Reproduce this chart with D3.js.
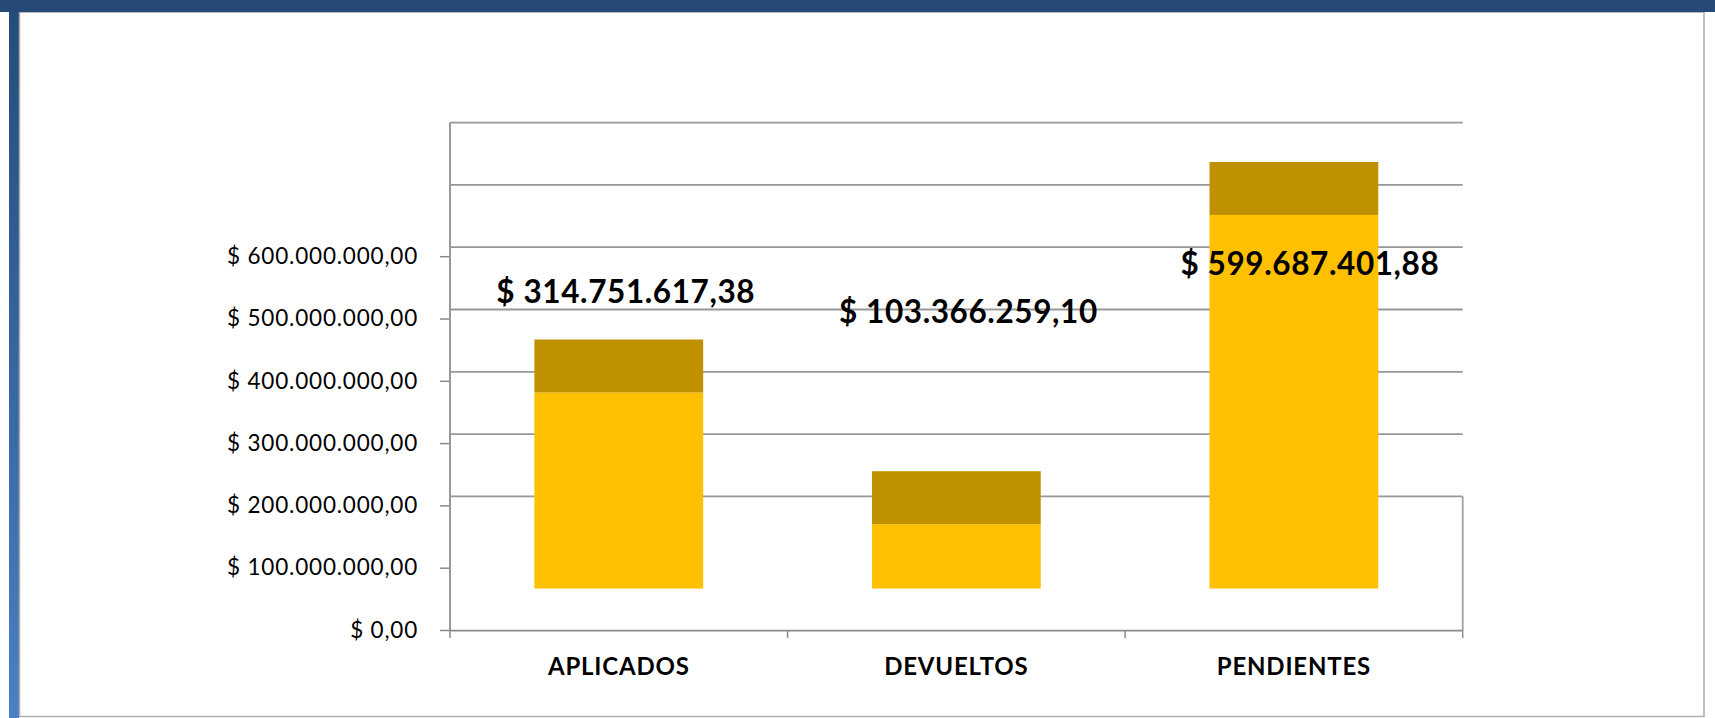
<!DOCTYPE html>
<html>
<head>
<meta charset="utf-8">
<script src="https://cdn.jsdelivr.net/npm/d3@7"></script>
<style>
  body { margin: 0; background: #fff; }
  svg { display: block; }
</style>
</head>
<body>
<svg id="chart"></svg>
<script>
// Chart data
const categories = ["APLICADOS", "DEVUELTOS", "PENDIENTES"];
const amounts = [314751617.38, 103366259.10, 599687401.88];
const tickValues = [0, 100e6, 200e6, 300e6, 400e6, 500e6, 600e6];
const gridValues = [200e6, 300e6, 400e6, 500e6, 600e6, 700e6, 800e6];

// Leftovers of the old 3D excel chart: columns float above zero and carry a darker cap
const floorLift = 66500000;
const capAmount = 85000000;
// where each value label was dragged to (in axis units)
const labelAt = [525e6, 493e6, 570e6];
const labelNudge = [7, 12, 16];

// es-CO style money format: $ 314.751.617,38
const locale = d3.formatLocale({decimal: ",", thousands: ".", grouping: [3], currency: ["$ ", ""]});
const money = locale.format("$,.2f");

function drawChart() {
    const width = 1715, height = 718;
    const svg = d3.select("#chart").attr("width", width).attr("height", height);

    // Frame
    const defs = svg.append("defs");
    const grad = defs.append("linearGradient").attr("id", "side")
        .attr("x1", 0).attr("y1", 0).attr("x2", 0).attr("y2", 1);
    grad.append("stop").attr("offset", "0%").attr("stop-color", "#244b7a");
    grad.append("stop").attr("offset", "100%").attr("stop-color", "#4a80c4");

    svg.append("rect").attr("x", 0).attr("y", 0).attr("width", width).attr("height", height).attr("fill", "#fff");
    svg.append("rect").attr("x", 9).attr("y", 0).attr("width", 10).attr("height", height).attr("fill", "url(#side)");
    svg.append("rect").attr("x", 0).attr("y", 0).attr("width", width).attr("height", 12).attr("fill", "#244a75");
    svg.append("line").attr("x1", 19).attr("x2", 1704).attr("y1", 12.5).attr("y2", 12.5)
        .attr("stroke", "#b5b9c0").attr("stroke-width", 1);
    svg.append("line").attr("x1", 19.5).attr("x2", 19.5).attr("y1", 12).attr("y2", 716)
        .attr("stroke", "#aaa").attr("stroke-width", 1.5);
    svg.append("line").attr("x1", 1704).attr("x2", 1704).attr("y1", 12).attr("y2", 717)
        .attr("stroke", "#aaa").attr("stroke-width", 1.5);
    svg.append("line").attr("x1", 19).attr("x2", 1704).attr("y1", 716.5).attr("y2", 716.5)
        .attr("stroke", "#b0b0b0").attr("stroke-width", 1.5);

    // Scales
    const x = d3.scaleBand().domain(categories).range([450, 1462.7]).padding(0);
    const y = d3.scaleLinear().domain([0, 800e6]).range([630, 131.6]);
    const wallShift = 9;
    const barW = x.bandwidth() * 0.5;

    const g = svg.append("g");

    // Back wall gridlines (sit a little higher than the ticks)
    g.selectAll("line.grid").data(gridValues).join("line")
        .attr("class", "grid")
        .attr("x1", 450).attr("x2", 1462.7)
        .attr("y1", d => y(d) - wallShift).attr("y2", d => y(d) - wallShift)
        .attr("stroke", "#979797").attr("stroke-width", 1.8);

    // Right wall edge, lower part only
    g.append("line")
        .attr("x1", 1462.7).attr("x2", 1462.7)
        .attr("y1", y(200e6) - wallShift).attr("y2", y(0))
        .attr("stroke", "#a0a0a0").attr("stroke-width", 1.8);

    // Left axis
    const yAxis = d3.axisLeft(y).tickValues(tickValues).tickFormat(money).tickSize(10).tickPadding(22);
    const ya = g.append("g").attr("transform", "translate(450,0)").call(yAxis);
    ya.select(".domain").remove();
    ya.selectAll(".tick line").attr("stroke", "#8a8a8a").attr("stroke-width", 1.5);
    ya.selectAll(".tick text")
        .attr("fill", "#000")
        .style("font-family", "Lato, 'Open Sans', sans-serif")
        .style("font-size", "22.5px")
        .style("letter-spacing", "0.8px");
    g.append("line")
        .attr("x1", 450).attr("x2", 450)
        .attr("y1", y(800e6) - wallShift).attr("y2", y(0))
        .attr("stroke", "#999").attr("stroke-width", 2);

    // Bottom axis
    g.append("line")
        .attr("x1", 450).attr("x2", 1462.7).attr("y1", y(0) + 0.7).attr("y2", y(0) + 0.7)
        .attr("stroke", "#8a8a8a").attr("stroke-width", 1.8);
    const edges = categories.map(c => x(c)).concat([x.range()[1]]);
    g.selectAll("line.xtick").data(edges).join("line")
        .attr("class", "xtick")
        .attr("x1", d => d).attr("x2", d => d)
        .attr("y1", y(0)).attr("y2", y(0) + 8)
        .attr("stroke", "#8a8a8a").attr("stroke-width", 1.5);
    g.selectAll("text.cat").data(categories).join("text")
        .attr("class", "cat")
        .attr("x", d => x(d) + x.bandwidth() / 2)
        .attr("y", 675)
        .attr("text-anchor", "middle")
        .style("font-family", "Lato, 'Open Sans', sans-serif")
        .style("font-weight", "bold")
        .style("font-size", "24px")
        .style("letter-spacing", "0.8px")
        .text(d => d);

    // Columns: yellow body + darker cap
    const bars = g.selectAll("g.bar").data(categories).join("g").attr("class", "bar");
    bars.append("rect")
        .attr("x", d => x(d) + (x.bandwidth() - barW) / 2)
        .attr("width", barW)
        .attr("y", (d, i) => y(floorLift + amounts[i]))
        .attr("height", (d, i) => y(floorLift) - y(floorLift + amounts[i]))
        .attr("fill", "#ffc000");
    bars.append("rect")
        .attr("x", d => x(d) + (x.bandwidth() - barW) / 2)
        .attr("width", barW)
        .attr("y", (d, i) => y(floorLift + amounts[i] + capAmount))
        .attr("height", y(0) - y(capAmount))
        .attr("fill", "#bf9000");

    // Value labels
    g.selectAll("text.val").data(categories).join("text")
        .attr("class", "val")
        .attr("x", (d, i) => x(d) + x.bandwidth() / 2 + labelNudge[i])
        .attr("y", (d, i) => y(labelAt[i]))
        .attr("text-anchor", "middle")
        .style("font-family", "Lato, 'Open Sans', sans-serif")
        .style("font-weight", "bold")
        .style("font-size", "31.5px")
        .style("letter-spacing", "0.6px")
        .text((d, i) => money(amounts[i]));
}

drawChart();
</script>
</body>
</html>
